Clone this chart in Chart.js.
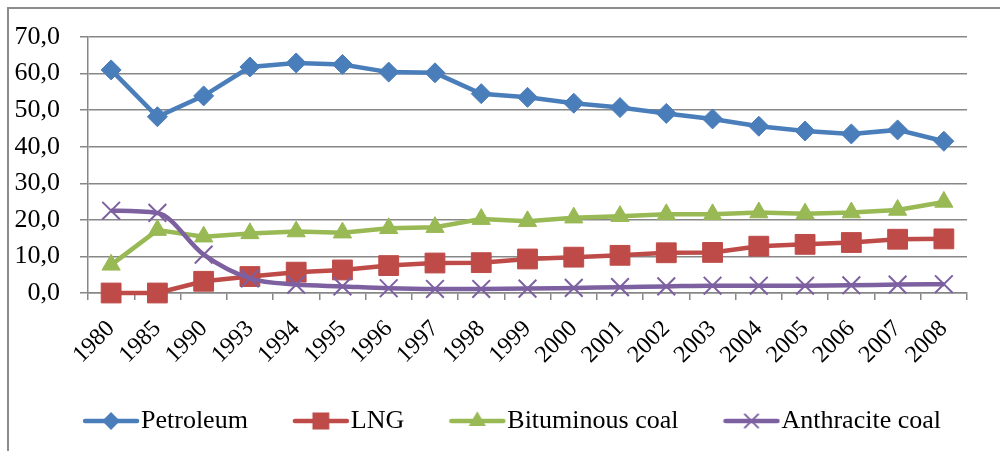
<!DOCTYPE html>
<html>
<head>
<meta charset="utf-8">
<script src="https://cdn.jsdelivr.net/npm/chart.js@4.4.1/dist/chart.umd.min.js"></script>
<style>
  html, body { margin: 0; padding: 0; background: #ffffff; }
  #wrap { position: relative; width: 1000px; height: 451px; }
</style>
</head>
<body>
<div id="wrap"><canvas id="c" width="1000" height="451"></canvas></div>
<script>
const years = ['1980','1985','1990','1993','1994','1995','1996','1997','1998','1999','2000','2001','2002','2003','2004','2005','2006','2007','2008'];
const petroleum  = [61.0, 48.2, 53.9, 61.8, 62.9, 62.5, 60.4, 60.2, 54.5, 53.5, 51.9, 50.7, 49.1, 47.6, 45.6, 44.3, 43.5, 44.6, 41.5];
const lng        = [0.0, 0.0, 3.2, 4.5, 5.7, 6.3, 7.5, 8.2, 8.3, 9.3, 9.8, 10.3, 11.0, 11.1, 12.8, 13.3, 13.8, 14.7, 14.8];
const bituminous = [7.7, 17.2, 15.4, 16.3, 16.8, 16.5, 17.7, 18.0, 20.2, 19.6, 20.6, 21.0, 21.5, 21.5, 22.0, 21.7, 22.0, 22.7, 24.9];
const anthracite = [22.5, 21.9, 10.5, 4.0, 2.3, 1.8, 1.3, 1.1, 1.1, 1.2, 1.4, 1.6, 1.8, 2.0, 2.0, 2.0, 2.1, 2.3, 2.4];
const seriesNames = ['Petroleum', 'LNG', 'Bituminous coal', 'Anthracite coal'];
const yTicks = [0, 10, 20, 30, 40, 50, 60, 70];

const colors = ['#4A7EBB', '#BE4B48', '#98B954', '#7D60A0'];
const styles = ['rectRot', 'rect', 'triangle', 'crossRot'];
const radii = [10, 14, 10.5, 12.5];
const FONT = '"Liberation Serif", "Times New Roman", serif';
const GRID = '#878787';

function legendSymbol(i) {
  const cv = document.createElement('canvas');
  cv.width = 58; cv.height = 26;
  const ctx = cv.getContext('2d');
  ctx.strokeStyle = colors[i];
  ctx.lineWidth = 4.5;
  ctx.lineCap = 'round';
  ctx.beginPath(); ctx.moveTo(3, 13); ctx.lineTo(55, 13); ctx.stroke();
  ctx.save();
  ctx.fillStyle = colors[i];
  ctx.strokeStyle = colors[i];
  ctx.lineWidth = 2;
  Chart.helpers.drawPoint(ctx, {pointStyle: styles[i], radius: radii[i] * 0.75, rotation: 0, borderWidth: 2}, 29, 13);
  ctx.fill();
  ctx.restore();
  return cv;
}

const dataArrays = [petroleum, lng, bituminous, anthracite];
const datasets = dataArrays.map((arr, i) => ({
  label: seriesNames[i],
  data: arr,
  borderColor: colors[i],
  backgroundColor: colors[i],
  borderWidth: 4.5,
  pointStyle: styles[i],
  pointRadius: radii[i],
  pointHoverRadius: radii[i],
  pointBackgroundColor: colors[i],
  pointBorderColor: colors[i],
  pointBorderWidth: i === 3 ? 2 : 1,
  tension: i === 3 ? 0.4 : 0,
  cubicInterpolationMode: i === 3 ? 'monotone' : 'default',
  order: 4 - i,
  clip: false
}));

const frame = {
  id: 'frame',
  beforeDraw(chart) {
    const c = chart.ctx;
    c.save();
    c.fillStyle = '#ffffff';
    c.fillRect(0, 0, chart.width, chart.height);
    c.restore();
  },
  beforeLayout(chart) {
    const lg = chart.legend;
    if (lg && !lg._patched) {
      const orig = lg.fit;
      lg.fit = function () { orig.call(this); this.height = 52; };
      lg._patched = true;
    }
  },
  afterLayout(chart) {
    const lg = chart.legend;
    if (lg) {
      lg.left += 30; lg.right += 30;
      lg.top = 352; lg.bottom = 352 + 93; lg.height = 93;
    }
  },
  afterDraw(chart) {
    const c = chart.ctx;
    c.save();
    c.strokeStyle = '#8c8c8c';
    c.lineWidth = 2;
    c.beginPath();
    c.moveTo(8, 452); c.lineTo(8, 8); c.lineTo(1001, 8);
    c.stroke();
    c.restore();
  }
};

new Chart(document.getElementById('c'), {
  type: 'line',
  data: { labels: years, datasets },
  plugins: [frame],
  options: {
    responsive: false,
    animation: false,
    devicePixelRatio: 1,
    layout: { padding: { left: 8, top: 37, right: 33, bottom: 6 } },
    plugins: {
      tooltip: { enabled: false },
      legend: {
        position: 'bottom',
        labels: {
          usePointStyle: true,
          pointStyleWidth: 34,
          padding: 56,
          color: '#000000',
          font: { family: FONT, size: 26 },
          generateLabels(chart) {
            return seriesNames.map((n, i) => ({
              text: n,
              fillStyle: colors[i],
              strokeStyle: colors[i],
              lineWidth: 0,
              pointStyle: legendSymbol(i),
              hidden: false,
              datasetIndex: i,
              fontColor: '#000000'
            }));
          }
        }
      }
    },
    scales: {
      x: {
        type: 'category',
        offset: true,
        grid: { offset: true, drawOnChartArea: false, drawTicks: true, tickLength: 7, color: GRID, lineWidth: 1.5 },
        border: { display: true, color: GRID, width: 1.5 },
        ticks: { color: '#000000', font: { family: FONT, size: 24 }, minRotation: 45, maxRotation: 45, padding: 15, autoSkip: false },
        afterFit(s) { s.height = 100; }
      },
      y: {
        min: 0, max: 70,
        afterBuildTicks(s) { s.ticks = yTicks.map(v => ({ value: v })); },
        grid: { color: GRID, lineWidth: 1.5, tickLength: 8, drawTicks: true },
        border: { display: true, color: GRID, width: 1.5 },
        ticks: {
          color: '#000000', font: { family: FONT, size: 26 }, padding: 20, autoSkip: false,
          callback: v => v.toFixed(1).replace('.', ',')
        },
        afterFit(s) { s.width = 80; }
      }
    }
  }
});
</script>
</body>
</html>
